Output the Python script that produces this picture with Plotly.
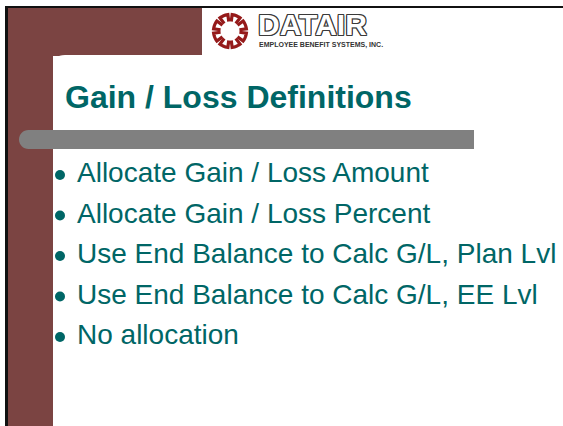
import numpy as np
import plotly.graph_objects as go

# ---- content ----
title_text = "Gain / Loss Definitions"
bullet_items = [
    "Allocate Gain / Loss Amount",
    "Allocate Gain / Loss Percent",
    "Use End Balance to Calc G/L, Plan Lvl",
    "Use End Balance to Calc G/L, EE Lvl",
    "No allocation",
]
logo_word = "DATAIR"
logo_tagline = "EMPLOYEE BENEFIT SYSTEMS, INC."

# ---- style ----
W, H = 563, 426
MAROON = "#7b4442"
TEAL = "#006666"
GRAY = "#808080"
LOGO_RED = "#951a1a"
FONT = "Liberation Sans, Arial, sans-serif"

shapes = []
# maroon L-shaped band
shapes.append(dict(type="rect", x0=8, x1=53, y0=8, y1=H, fillcolor=MAROON, line_width=0, layer="below"))
shapes.append(dict(type="rect", x0=8, x1=202, y0=8, y1=56, fillcolor=MAROON, line_width=0, layer="below"))
# white content area with rounded top-left corner
r = 12
shapes.append(dict(type="path",
                   path=f"M 53 {H} L 53 {55+r} Q 53 55 {53+r} 55 L 210 55 L 210 {H} Z",
                   fillcolor="white", line_width=0, layer="below"))
# gray title bar with rounded left end
y0b, y1b = 130, 149
rb = (y1b - y0b) / 2
xl = 19 + rb
k = 0.5523 * rb
shapes.append(dict(type="path",
                   path=(f"M {xl} {y0b} L 474 {y0b} L 474 {y1b} L {xl} {y1b} "
                         f"C {xl-k} {y1b} {19} {y0b+rb+k} {19} {y0b+rb} "
                         f"C {19} {y0b+rb-k} {xl-k} {y0b} {xl} {y0b} Z"),
                   fillcolor=GRAY, line_width=0, layer="below"))
# black frame lines
shapes.append(dict(type="rect", x0=5, x1=W, y0=6, y1=8, fillcolor="#111111", line_width=0))
shapes.append(dict(type="rect", x0=5, x1=8, y0=6, y1=H, fillcolor="#111111", line_width=0))

# logo icon: ring of 8 bracket pieces
cx, cy, R = 230, 31, 16.5
for i in range(8):
    th = np.deg2rad(i * 45 + 22.5)
    a = np.linspace(th - np.deg2rad(15), th + np.deg2rad(15), 8)
    pts = [(cx + (R - 7) * np.cos(a[0]), cy + (R - 7) * np.sin(a[0]))]
    pts += [(cx + R * np.cos(t), cy + R * np.sin(t)) for t in a]
    pts += [(cx + (R - 7) * np.cos(a[-1]), cy + (R - 7) * np.sin(a[-1]))]
    p = "M " + " L ".join(f"{x:.2f} {y:.2f}" for x, y in pts)
    shapes.append(dict(type="path", path=p, line=dict(color=LOGO_RED, width=3.2)))

annotations = []
annotations.append(dict(x=63, y=97, text=f"<b>{title_text}</b>", showarrow=False,
                        xanchor="left", yanchor="middle",
                        font=dict(family=FONT, size=32, color=TEAL)))

y_start, step = 175, 40.5
bullet_y = [y_start + i * step for i in range(len(bullet_items))]
for yy, txt in zip(bullet_y, bullet_items):
    annotations.append(dict(x=75, y=yy - 2.5, text=txt, showarrow=False,
                            xanchor="left", yanchor="middle",
                            font=dict(family=FONT, size=28, color=TEAL)))

outline = ", ".join(f"{dx}px {dy}px 0 #3a3a3a" for dx in (-1, 0, 1) for dy in (-1, 0, 1) if dx or dy)
annotations.append(dict(x=256, y=24, text=f"<b>{logo_word}</b>", showarrow=False,
                        xanchor="left", yanchor="middle",
                        font=dict(family=FONT, size=30, color="white", shadow=outline)))
annotations.append(dict(x=257, y=45, text=f"<b>{logo_tagline}</b>", showarrow=False,
                        xanchor="left", yanchor="middle",
                        font=dict(family=FONT, size=7, color="#333333")))

fig = go.Figure()
fig.add_trace(go.Scatter(x=[60] * len(bullet_y), y=bullet_y, mode="markers",
                         marker=dict(size=10, color=TEAL), hoverinfo="skip", showlegend=False))

fig.update_layout(
    width=W, height=H, margin=dict(l=0, r=0, t=0, b=0),
    paper_bgcolor="white", plot_bgcolor="white",
    xaxis=dict(range=[0, W], visible=False, fixedrange=True),
    yaxis=dict(range=[H, 0], visible=False, fixedrange=True),
    shapes=shapes, annotations=annotations, showlegend=False,
)

fig.write_html("out.html", config={"displayModeBar": False},
               post_script="document.body.style.margin='0';document.body.style.overflow='hidden';")
